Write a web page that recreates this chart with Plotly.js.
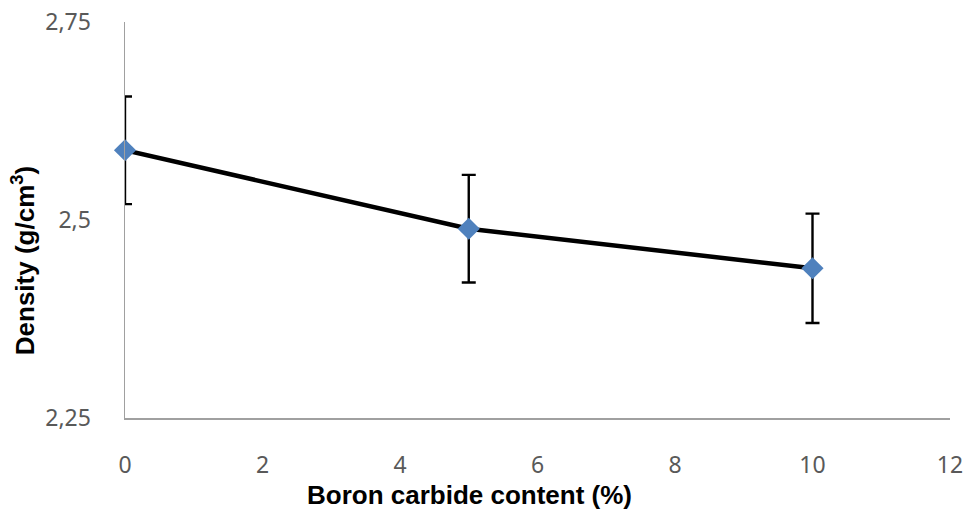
<!DOCTYPE html>
<html><head><meta charset="utf-8">
<script src="https://cdn.plot.ly/plotly-3.0.1.min.js"></script>
<style>html,body{margin:0;padding:0;background:#fff}#chart{width:969px;height:511px}</style>
</head><body><div id="chart"></div>
<script>
const boronContent = [0, 5, 10];
const density = [2.588, 2.489, 2.439];
const densityError = [0.068, 0.068, 0.069];
const xTicks = [0, 2, 4, 6, 8, 10, 12];
const yTicks = [2.25, 2.5, 2.75];
const yTickText = ['2,25', '2,5', '2,75'];
const xTitle = 'Boron carbide content (%)';
const yTitle = 'Density (g/cm<sup>3</sup>)';

const titleFont = {family: 'Liberation Sans, Arial, sans-serif', size: 26, color: '#000', weight: 'bold'};
const trace = {
  x: boronContent, y: density, type: 'scatter', mode: 'lines+markers',
  cliponaxis: false,
  line: {color: '#000000', width: 4.5},
  marker: {symbol: 'diamond', size: 17, color: '#4F81BD', line: {width: 0}},
  error_y: {type: 'data', array: densityError, visible: true, color: '#000000', thickness: 2.4, width: 7}
};
const layout = {
  width: 969, height: 511,
  margin: {l: 125, r: 19, t: 22, b: 93},
  separators: ', ',
  paper_bgcolor: '#fff', plot_bgcolor: '#fff',
  showlegend: false,
  font: {family: 'Noto Sans, sans-serif', color: '#595959'},
  xaxis: {
    range: [0, 12], tickvals: xTicks, ticktext: xTicks.map(String),
    showgrid: false, zeroline: false, showline: true, linecolor: '#a0a0a0', linewidth: 1.5,
    ticks: '', ticklabelstandoff: 26, tickfont: {size: 23, color: '#595959'}
  },
  yaxis: {
    range: [2.25, 2.75], tickvals: yTicks, ticktext: yTickText,
    showgrid: false, zeroline: false, showline: true, linecolor: '#a0a0a0', linewidth: 1.5,
    ticks: '', ticklabelstandoff: 28, tickfont: {size: 23, color: '#595959'}
  },
  annotations: [
    {text: xTitle, xref: 'paper', yref: 'paper', x: 0.417, y: -0.194, xanchor: 'center', yanchor: 'middle', showarrow: false, font: titleFont},
    {text: yTitle, xref: 'paper', yref: 'paper', x: -0.1236, y: 0.396, xanchor: 'center', yanchor: 'middle', textangle: -90, showarrow: false, font: titleFont}
  ]
};
Plotly.newPlot('chart', [trace], layout, {displayModeBar: false, staticPlot: true});
</script></body></html>
